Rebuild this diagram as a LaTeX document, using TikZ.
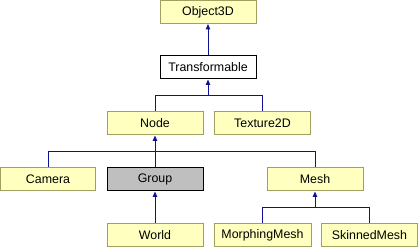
\documentclass[tikz,border=0pt]{standalone}
\usepackage{fontspec}
\setmainfont{Liberation Sans}
\usetikzlibrary{arrows.meta,positioning}
\definecolor{edgeBlue}{RGB}{16,16,150}
\definecolor{paleYellow}{RGB}{255,255,192}
\definecolor{olive}{RGB}{160,160,96}
\definecolor{midGrey}{RGB}{191,191,191}
\tikzset{
  inherit/.style={-{Triangle[width=4.5pt,length=5.5pt]}, line width=1pt, draw=edgeBlue},
  link/.style={line width=1pt, draw=edgeBlue},
  klass/.style={draw=olive, fill=paleYellow, line width=1pt, minimum width=96pt,
                minimum height=23pt, inner sep=0pt, font=\fontsize{12.4}{14}\selectfont},
  current/.style={klass, draw=black, fill=midGrey},
  plain/.style={klass, draw=black, fill=white}
}
\begin{document}
\begin{tikzpicture}[x=1pt, y=-1pt]
  \useasboundingbox (0,0) rectangle (418,248);
  \node[klass] (object) at (208,12) {Object3D};
  \node[plain] (transformable) at (208,67.5) {Transformable};
  \node[klass] (node) at (155,123.5) {Node};
  \node[klass] (texture) at (262.5,123.5) {Texture2D};
  \node[klass, minimum width=95pt] (camera) at (48,179.5) {Camera};
  \node[current] (group) at (155,179.5) {Group};
  \node[klass] (mesh) at (315,179.5) {Mesh};
  \node[klass] (world) at (155,235.5) {World};
  \node[klass, minimum width=97pt] (morphing) at (262.5,235.5) {MorphingMesh};
  \node[klass] (skinned) at (369.5,235.5) {SkinnedMesh};
  % junctions of the shared branches
  \coordinate (tj) at (208,96);
  \coordinate (nj) at (155,152);
  \coordinate (mj) at (315,208);
  \draw[inherit] (transformable.north) -- (object.south);
  \draw[inherit] (node.north) |- (tj) -- (transformable.south);
  \draw[link] (texture.north) |- (tj);
  \draw[inherit] (group.north) -- (node.south);
  \draw[link] (camera.north) |- (nj);
  \draw[link] (mesh.north) |- (nj);
  \draw[inherit] (world.north) -- (group.south);
  \draw[inherit] (morphing.north) |- (mj) -- (mesh.south);
  \draw[link] (skinned.north) |- (mj);
\end{tikzpicture}
\end{document}
